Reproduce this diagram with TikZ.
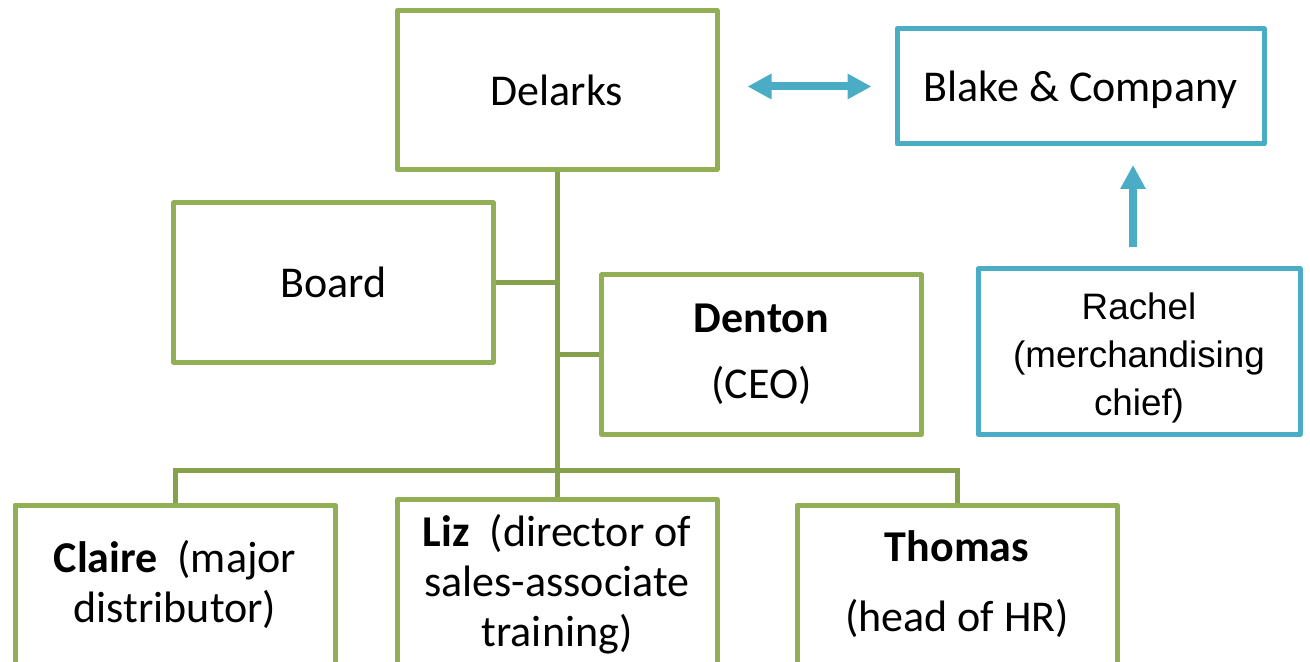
\documentclass[tikz,border=0pt]{standalone}
\usepackage{fontspec}
\setmainfont{Carlito}
\newfontfamily\arialfont{Liberation Sans}
\usetikzlibrary{arrows.meta,positioning,calc}
\definecolor{orggreen}{HTML}{92AF55}
\definecolor{orgline}{HTML}{86A04B}
\definecolor{orgblue}{HTML}{4BACC6}
\tikzset{
  unit/.style    = {draw=orggreen, line width=2.5pt, line join=round, fill=white,
                    minimum width=160pt, minimum height=79.5pt, inner sep=2pt,
                    align=center, font=\fontsize{22}{25}\selectfont},
  partner/.style = {unit, draw=orgblue},
  link/.style    = {draw=orgline, line width=2.5pt},
  flow/.style    = {draw=orgblue, line width=4pt, -{Triangle[length=12pt,width=12pt]}},
}
\begin{document}
\begin{tikzpicture}[x=0.5pt,y=-0.5pt]
  \useasboundingbox (0,0) rectangle (1310,662);
  \clip (0,0) rectangle (1310,662);
  \node[unit] (delarks) at (557,90) {Delarks};
  \node[partner, right=87.5pt of delarks, yshift=1.75pt, minimum width=183.5pt, minimum height=57.5pt] (blake) {\rule{0pt}{19pt}Blake \& Company};
  \node[unit] (board) at (333.5,282.5) {Board};
  \node[unit] (denton) at (761.5,354.5) {\textbf{Denton}\\[8pt](CEO)};
  \node[partner, minimum width=161pt, minimum height=82.5pt,
        font=\arialfont\fontsize{18.4}{24}\selectfont] (rachel) at (1139,351.5) {\rule{0pt}{20pt}Rachel\\(merchandising\\chief)};
  \node[unit, below=162.5pt of delarks, minimum height=85pt] (liz) {\textbf{Liz}\ \ (director of\\sales-associate\\training)};
  \node[unit, left=28.5pt of liz] (claire) {\textbf{Claire}\ \ (major\\distributor)};
  \node[unit, right=37.5pt of liz] (thomas) {\textbf{Thomas}\\[10pt](head of HR)};
  % reporting lines
  \draw[link] (delarks.south) -- (liz.north);
  \draw[link] (board.east) -- (board.east -| delarks.south);
  \draw[link] (denton.west -| delarks.south) -- (denton.west);
  \draw[link] (claire.north) |- ($(liz.north)+(0,-27)$) -| (thomas.north);
  % links to the partner company
  \draw[flow, {Triangle[length=12pt,width=12pt]}-{Triangle[length=12pt,width=12pt]}, shorten <=14pt, shorten >=11.5pt] (delarks.east |- blake.west) -- (blake.west);
  \draw[flow, shorten <=9.5pt, shorten >=9.25pt] ([xshift=-3pt]rachel.north) -- ([xshift=-3pt]rachel.north |- blake.south);
\end{tikzpicture}
\end{document}
